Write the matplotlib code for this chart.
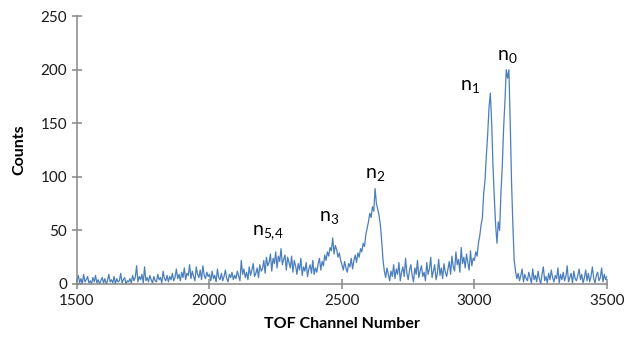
import numpy as np
import matplotlib
matplotlib.use('Agg')
import matplotlib.pyplot as plt

plt.rcParams['font.family'] = ['Lato', 'DejaVu Sans']
plt.rcParams['mathtext.fontset'] = 'custom'
plt.rcParams['mathtext.rm'] = 'Lato'

# TOF spectrum, one value every 5 channels
channel_start = 1500
channel_step = 5
counts = [
    3, 8, 1, 5, 0, 9, 2, 4, 7, 1, 3, 0, 6, 2, 8, 1, 4, 0, 3, 6,              # 1500
    1, 5, 0, 3, 9, 2, 4, 1, 7, 0, 5, 2, 3, 10, 1, 4, 6, 0, 3, 2,             # 1600
    5, 1, 8, 3, 6, 17, 2, 7, 4, 9, 1, 16, 3, 6, 2, 8, 4, 1, 7, 3,            # 1700
    2, 9, 4, 6, 1, 12, 5, 3, 8, 2, 7, 4, 10, 3, 6, 14, 5, 9, 3, 11,          # 1800
    6, 15, 4, 10, 8, 18, 5, 12, 7, 3, 16, 9, 6, 13, 4, 17, 8, 5, 11, 7,      # 1900
    9, 3, 12, 5, 8, 2, 14, 6, 4, 10, 3, 7, 13, 5, 2, 9, 6, 11, 4, 8,         # 2000
    5, 12, 7, 3, 22, 9, 14, 6, 11, 4, 16, 8, 13, 19, 7, 10, 15, 6, 18, 12,   # 2100
    14, 22, 10, 25, 17, 20, 28, 12, 24, 19, 30, 15, 26, 21, 33, 18, 23, 27, 13, 25,  # 2200
    20, 15, 26, 11, 22, 17, 9, 19, 13, 24, 8, 16, 12, 20, 7, 14, 18, 10, 22, 9,      # 2300
    15, 11, 19, 24, 13, 21, 17, 27, 22, 30, 26, 34, 31, 43, 28, 36, 32, 25, 29, 22,  # 2400
    18, 13, 21, 15, 11, 19, 16, 24, 14, 22, 27, 20, 29, 25, 33, 30, 38, 35, 46, 52,  # 2500
    58, 66, 62, 72, 68, 89, 75, 70, 64, 55, 40, 22, 12, 6, 15, 9, 3, 12, 7, 18,      # 2600
    5, 14, 9, 20, 3, 11, 16, 7, 24, 10, 4, 13, 18, 8, 2, 15, 9, 22, 6, 12,           # 2700
    17, 7, 11, 3, 20, 9, 14, 25, 6, 12, 18, 4, 10, 23, 8, 15, 5, 19, 11, 7,          # 2800
    14, 21, 9, 26, 16, 12, 30, 18, 23, 11, 34, 19, 25, 15, 28, 20, 13, 31, 17, 24,   # 2900
    22, 30, 26, 38, 45, 55, 62, 85, 97, 120, 140, 165, 178, 150, 110, 80, 55, 38, 58, 50,  # 3000
    85, 110, 145, 170, 200, 192, 200, 150, 95, 55, 22, 12, 5, 10, 3, 8, 14, 2, 9, 5,       # 3100
    3, 11, 6, 1, 14, 4, 8, 2, 12, 5, 0, 9, 16, 3, 7, 1, 10, 4, 13, 6,        # 3200
    2, 8, 5, 15, 1, 9, 4, 11, 3, 7, 17, 2, 6, 10, 1, 12, 5, 3, 8, 14,        # 3300
    4, 9, 1, 6, 13, 3, 10, 2, 7, 16, 5, 1, 8, 11, 3, 6, 15, 2, 9, 4, 7,      # 3400
]

# peak labels
peak_labels = [r'$\mathregular{n_{5{,}4}}$', r'$\mathregular{n_3}$', r'$\mathregular{n_2}$',
               r'$\mathregular{n_1}$', r'$\mathregular{n_0}$']
peak_x = [2221, 2451, 2625, 2983, 3123]
peak_y = [48, 62, 102, 184, 212]

xticks = [1500, 2000, 2500, 3000, 3500]
yticks = [0, 50, 100, 150, 200, 250]

channels = channel_start + channel_step * np.arange(len(counts))

fig = plt.figure(figsize=(6.27, 3.42), dpi=100)
ax = fig.add_axes([0.1228, 0.1696, 0.8452, 0.7834])
ax.plot(channels, counts, color='#4a7ebd', lw=0.9)

for lab, x, y in zip(peak_labels, peak_x, peak_y):
    ax.text(x, y, lab, fontsize=14, ha='center', va='center', color='black')

ax.set_xlim(1500, 3500)
ax.set_ylim(0, 250)
ax.set_xticks(xticks)
ax.set_yticks(yticks)
for s in ['top', 'right']:
    ax.spines[s].set_visible(False)
for s in ['left', 'bottom']:
    ax.spines[s].set_color('#878787')
    ax.spines[s].set_linewidth(1.1)
ax.tick_params(direction='inout', length=7, width=1.1, color='#878787',
               labelsize=11, labelcolor='#1a1a1a')
ax.set_xlabel('TOF Channel Number', fontsize=11.5, fontweight='bold', labelpad=7)
ax.set_ylabel('Counts', fontsize=11.5, fontweight='bold', labelpad=10)

fig.savefig('out.png', dpi=100)
